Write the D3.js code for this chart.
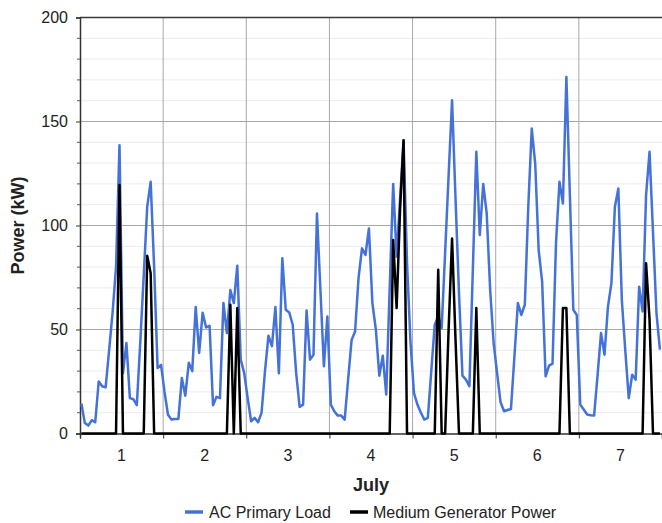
<!DOCTYPE html>
<html>
<head>
<meta charset="utf-8">
<style>
  body { margin: 0; background: #fff; }
  svg text { font-family: 'Liberation Sans', Arial, sans-serif; fill: #222; }
</style>
<script src="https://d3js.org/d3.v7.min.js"></script>
</head>
<body>
<div id="chart"></div>
<script>
// hourly values for one week of July (hour 0 .. 167)
var loadKW = [
  14.4, 5, 3.8, 6.4, 5.4, 25, 22.7, 22.2, 40, 58, 80, 138.6, 29, 43.5, 17, 16.5, 13.6, 44, 76, 109, 121, 80, 31.5, 33,
  20, 9, 6.7, 7, 7, 26.7, 18.2, 34, 30, 60.8, 38.7, 58, 51, 51.8, 13.6, 17.6, 17, 62.7, 48.3, 69, 62.7, 80.7, 35.5, 29,
  17, 5.9, 7.5, 5.4, 9.9, 30, 47, 42, 60.8, 29, 84.3, 59.5, 58.2, 52.3, 29, 12.8, 13.9, 59.1, 35.5, 37.9, 105.8, 69, 32.3, 56.3,
  13.9, 10.7, 8.6, 8.6, 6.7, 26, 45, 49, 74.7, 89, 85.8, 98.6, 62.7, 50, 27.8, 37.4, 18.7, 70, 120, 85, 113, 141, 82, 44,
  19.5, 13.9, 10, 6.7, 7.5, 30, 52.3, 56.3, 50.7, 87, 124, 160.2, 113, 67.5, 27.8, 25.9, 22.7, 79, 135.4, 95.4, 120, 105.8, 69, 43.5,
  29, 15, 10.7, 11.3, 11.8, 37, 62.7, 57, 61.9, 109, 146.6, 129.8, 88.2, 73, 27.5, 32.6, 33.6, 91.5, 121, 110.6, 171.4, 115, 59.5, 57,
  13.9, 11.5, 9.1, 8.8, 8.6, 28, 48.3, 37.9, 61, 72.3, 109, 117.8, 64.3, 40, 17, 28.3, 25.9, 70.6, 58.7, 114.6, 135.4, 97, 57.9, 40.3
];
var genKW = [
  0, 0, 0, 0, 0, 0, 0, 0, 0, 0, 0, 119.5, 0, 0, 0, 0, 0, 0, 0, 85.4, 77, 0, 0, 0,
  0, 0, 0, 0, 0, 0, 0, 0, 0, 0, 0, 0, 0, 0, 0, 0, 0, 0, 0, 61.9, 0, 60.3, 0, 0,
  0, 0, 0, 0, 0, 0, 0, 0, 0, 0, 0, 0, 0, 0, 0, 0, 0, 0, 0, 0, 0, 0, 0, 0,
  0, 0, 0, 0, 0, 0, 0, 0, 0, 0, 0, 0, 0, 0, 0, 0, 0, 0, 93, 60.3, 108, 141, 0, 0,
  0, 0, 0, 0, 0, 0, 0, 78.7, 0, 0, 50, 93.8, 45, 0, 0, 0, 0, 0, 60.3, 0, 0, 0, 0, 0,
  0, 0, 0, 0, 0, 0, 0, 0, 0, 0, 0, 0, 0, 0, 0, 0, 0, 0, 0, 60.3, 60.3, 0, 0, 0,
  0, 0, 0, 0, 0, 0, 0, 0, 0, 0, 0, 0, 0, 0, 0, 0, 0, 0, 0, 81.9, 55, 0, 0, 0
];
var dayLabels = ["1", "2", "3", "4", "5", "6", "7"];
var yTicks = [0, 50, 100, 150, 200];
var seriesNames = ["AC Primary Load", "Medium Generator Power"];
var seriesColors = ["#4472d9", "#000000"];

var W = 662, H = 523;
var m = { left: 80, right: 662, top: 17.5, bottom: 433.5 };
var hourOffset = 0.4;

var x = d3.scaleLinear().domain([0, 168]).range([m.left, m.right]);
var y = d3.scaleLinear().domain([0, 200]).range([m.bottom, m.top]);

var svg = d3.select("#chart").append("svg")
  .attr("width", W).attr("height", H);

var minorKW = d3.range(10, 200, 10).filter(function(d) { return d % 50 !== 0; });

// minor horizontal grid every 10 kW
svg.append("g").selectAll("line")
  .data(minorKW)
  .enter().append("line")
  .attr("x1", m.left).attr("x2", m.right)
  .attr("y1", function(d) { return y(d); }).attr("y2", function(d) { return y(d); })
  .attr("stroke", "#ececec").attr("stroke-width", 1);

// major horizontal grid
svg.append("g").selectAll("line")
  .data([50, 100, 150])
  .enter().append("line")
  .attr("x1", m.left).attr("x2", m.right)
  .attr("y1", function(d) { return y(d); }).attr("y2", function(d) { return y(d); })
  .attr("stroke", "#a8a8a8").attr("stroke-width", 1);

// vertical day boundaries
svg.append("g").selectAll("line")
  .data(d3.range(24, 168, 24))
  .enter().append("line")
  .attr("x1", function(d) { return x(d); }).attr("x2", function(d) { return x(d); })
  .attr("y1", m.top).attr("y2", m.bottom)
  .attr("stroke", "#a8a8a8").attr("stroke-width", 1);

// top frame
svg.append("line")
  .attr("x1", m.left).attr("x2", m.right).attr("y1", m.top).attr("y2", m.top)
  .attr("stroke", "#3a3a3a").attr("stroke-width", 1.5);

// y axis
var yAxis = d3.axisLeft(y).tickValues(yTicks).tickSize(4).tickPadding(8);
var gy = svg.append("g").attr("transform", "translate(" + m.left + ",0)").call(yAxis);
gy.select(".domain").attr("stroke", "#333").attr("stroke-width", 1.5);
gy.selectAll(".tick line").attr("stroke", "#333");
gy.selectAll("text").style("font-size", "16px").attr("fill", "#222")
  .style("font-family", "'Liberation Sans', Arial, sans-serif");
svg.append("g").selectAll("line")
  .data(minorKW)
  .enter().append("line")
  .attr("x1", m.left - 3).attr("x2", m.left)
  .attr("y1", function(d) { return y(d); }).attr("y2", function(d) { return y(d); })
  .attr("stroke", "#555").attr("stroke-width", 1);

// x axis: ticks at day boundaries, labels at day centres
var xAxis = d3.axisBottom(x).tickValues(d3.range(0, 169, 24)).tickSize(5).tickFormat("");
var gx = svg.append("g").attr("transform", "translate(0," + m.bottom + ")").call(xAxis);
gx.select(".domain").attr("stroke", "#333").attr("stroke-width", 1.5);
gx.selectAll(".tick line").attr("stroke", "#333");

svg.append("g").selectAll("text")
  .data(dayLabels)
  .enter().append("text")
  .attr("x", function(d, i) { return x(i * 24 + 12); })
  .attr("y", 461)
  .attr("text-anchor", "middle")
  .style("font-size", "16px")
  .text(function(d) { return d; });

svg.append("text")
  .attr("x", (m.left + m.right) / 2).attr("y", 491)
  .attr("text-anchor", "middle")
  .style("font-size", "18px").style("font-weight", "bold")
  .text("July");

svg.append("text")
  .attr("transform", "translate(24," + ((m.top + m.bottom) / 2) + ") rotate(-90)")
  .attr("text-anchor", "middle")
  .style("font-size", "18px").style("font-weight", "bold")
  .text("Power (kW)");

// series
var line = d3.line()
  .x(function(d, i) { return x(i + hourOffset); })
  .y(function(d) { return y(d); });

svg.append("path")
  .datum(loadKW)
  .attr("d", line)
  .attr("fill", "none")
  .attr("stroke", seriesColors[0])
  .attr("stroke-width", 2.5)
  .attr("stroke-linejoin", "round");

svg.append("path")
  .datum(genKW)
  .attr("d", line)
  .attr("fill", "none")
  .attr("stroke", seriesColors[1])
  .attr("stroke-width", 2.5)
  .attr("stroke-linejoin", "round");

// legend
var legendX = [185, 350];
var legend = svg.append("g").selectAll("g")
  .data(seriesNames)
  .enter().append("g")
  .attr("transform", function(d, i) { return "translate(" + legendX[i] + ",512)"; });
legend.append("line")
  .attr("x1", 0).attr("x2", 18).attr("y1", 0).attr("y2", 0)
  .attr("stroke", function(d, i) { return seriesColors[i]; })
  .attr("stroke-width", 3.5);
legend.append("text")
  .attr("x", function(d, i) { return i === 0 ? 24 : 23; })
  .attr("y", 6)
  .style("font-size", "16px")
  .text(function(d) { return d; });
</script>
</body>
</html>
